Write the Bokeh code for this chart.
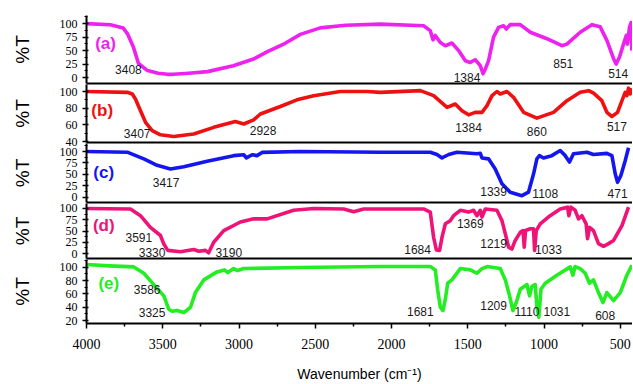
from bokeh.plotting import figure
from bokeh.layouts import column
from bokeh.models import Range1d, FixedTicker, ColumnDataSource
from bokeh.core.properties import value
from bokeh.embed import file_html
from bokeh.resources import INLINE

# ---------------- data ----------------
x_ticks = [4000, 3500, 3000, 2500, 2000, 1500, 1000, 500]
x_minor = [3750, 3250, 2750, 2250, 1750, 1250, 750]

wn_a = [4000, 3843, 3760, 3731, 3692, 3659, 3600, 3530, 3469, 3430, 3330, 3207, 3037, 2900, 2814, 2700,
        2598, 2467, 2300, 2073, 1790, 1746, 1728, 1713, 1680, 1647, 1604, 1560, 1516, 1484, 1451, 1418,
        1400, 1385, 1364, 1331, 1298, 1265, 1248, 1222, 1156, 1090, 981, 883, 850, 763, 686, 632, 588,
        544, 527, 505, 479, 461, 453, 440, 429, 424]
t_a = [100, 98, 92, 81, 56, 26, 13, 8, 6, 6, 8, 11, 22, 35, 48, 63,
       80, 92, 97, 99, 96, 87, 70, 78, 65, 59, 64, 50, 31, 28, 33, 22,
       7, 16, 31, 75, 93, 96, 90, 98, 98, 84, 72, 59, 62, 84, 98, 94, 69,
       35, 25, 38, 62, 78, 62, 93, 102, 50]

wn_b = [4000, 3733, 3700, 3679, 3646, 3613, 3569, 3515, 3428, 3297, 3166, 3024, 2969, 2904, 2860, 2729,
        2620, 2510, 2336, 2161, 2073, 1811, 1724, 1636, 1582, 1538, 1495, 1451, 1407, 1374, 1341, 1309,
        1287, 1243, 1200, 1134, 1047, 938, 850, 763, 708, 675, 621, 588, 555, 518, 489, 468, 457, 446,
        435, 424]
t_b = [100, 99, 97, 91, 77, 63, 53, 48, 46, 49, 57, 64, 61, 66, 73, 82,
       90, 95, 100, 100, 99, 101, 95, 81, 85, 77, 72, 75, 75, 83, 95, 100,
       97, 100, 93, 75, 68, 75, 89, 99, 101, 98, 89, 75, 70, 75, 89, 99, 95, 104,
       97, 104]

wn_c = [4000, 3733, 3624, 3537, 3450, 3362, 3209, 3035, 2969, 2952, 2914, 2882, 2849, 2598, 2073, 1746,
        1702, 1669, 1625, 1571, 1440, 1418, 1407, 1364, 1320, 1276, 1222, 1145, 1102, 1069, 1047, 1030,
        1004, 949, 894, 861, 833, 807, 719, 676, 588, 555, 533, 518, 496, 468, 446]
t_c = [100, 98.5, 84, 70, 62, 67, 79, 91, 93, 86, 93, 91, 98, 100, 98.5, 98.5,
       93.5, 86, 93.5, 98.5, 95, 96, 86, 84, 62, 30, 11.5, 4, 11.5, 51, 84, 91,
       86, 91, 102, 91, 77, 95, 98.5, 93.5, 96, 91, 51, 33, 48, 80, 108]

wn_d = [4000, 3712, 3646, 3581, 3515, 3493, 3467, 3384, 3297, 3264, 3220, 3199, 3166, 3100, 2991, 2904,
        2816, 2642, 2510, 2314, 2248, 2183, 2073, 1790, 1746, 1724, 1706, 1685, 1669, 1647, 1615, 1593,
        1549, 1495, 1462, 1440, 1418, 1407, 1385, 1309, 1276, 1254, 1232, 1211, 1189, 1156, 1138, 1130,
        1121, 1090, 1069, 1062, 1051, 1025, 960, 894, 846, 837, 824, 796, 774, 752, 724, 715, 701, 676,
        643, 610, 577, 544, 489, 446]
t_d = [100, 99, 84, 58, 40, 21, 7, 4, 9, 5, 7, 1.5, 25, 51, 70, 77,
       77, 96, 100, 99, 93, 99, 99, 99, 92, 36, 8, 7, 36, 66, 73, 84,
       96, 92, 96, 84, 96, 81, 99, 96, 73, 44, 14, 10, 29, 47, 51, 14,
       51, 55, 55, 7, 51, 66, 84, 99, 103, 84, 103, 96, 77, 84, 66, 33, 58, 51,
       22, 16, 22, 29, 62, 103]

wn_e = [4000, 3850, 3690, 3624, 3559, 3493, 3461, 3438, 3406, 3362, 3318, 3286, 3231, 3144, 3096, 3074,
        3035, 3009, 2969, 2598, 2073, 1746, 1713, 1698, 1680, 1663, 1647, 1632, 1604, 1549, 1484, 1440,
        1407, 1374, 1287, 1254, 1226, 1204, 1182, 1156, 1112, 1095, 1080, 1058, 1047, 1034, 1020, 992,
        916, 828, 811, 796, 763, 730, 702, 676, 643, 614, 588, 544, 500, 457, 424]
t_e = [104, 102, 100.5, 91, 74, 57, 37, 34, 35, 32, 40, 62, 81, 93, 96, 92,
       98, 95, 98, 99.5, 101, 101, 96, 67, 40, 35, 52, 76, 81, 98, 96, 91,
       98, 101, 98, 81, 57, 35, 47, 67, 74, 57, 71, 74, 42, 25, 67, 76,
       88, 100.5, 88, 101, 98, 91, 76, 81, 62, 47, 62, 50, 62, 88, 103]

# peak annotations
lab_a = ["3408", "1384", "851", "514"]
lab_b = ["3407", "2928", "1384", "860", "517"]
lab_c = ["3417", "1339", "1108", "471"]
lab_d = ["3591", "3330", "3190", "1684", "1369", "1219", "1033"]
lab_e = ["3586", "3325", "1681", "1209", "1110", "1031", "608"]
panel_names = ["(a)", "(b)", "(c)", "(d)", "(e)"]

# ---------------- placement / style ----------------
lpos_a = ([3725, 1505, 874, 514], [15, 0.5, 26, 8])
lpos_b = ([3668, 2842, 1495, 1047, 522], [50, 53, 57, 52, 58])
lpos_c = ([3478, 1331, 992, 518], [33, 14, 8, 8])
lpos_d = ([3657, 3570, 3067, 1829, 1484, 1331, 971], [36, 3, 3, 10, 66, 23, 10])
lpos_e = ([3602, 3570, 1811, 1331, 1112, 916, 599], [67, 32, 33.5, 43, 33.5, 33.5, 28])
npos = [(3875, 63), (3897, 77), (3887, 55), (3887, 62), (3854, 76)]

K = 8   # extra space below a panel (overlapped by the next one)
T = 6   # extra space above a panel (overlapping the previous one)
specs = [
    dict(wn=wn_a, t=t_a, lab=lab_a, lpos=lpos_a, color="#ee22ee", yr=(-11, 115),
         ticks=[0, 25, 50, 75, 100], minor=[12.5, 37.5, 62.5, 87.5, 112.5], frame=68, top=15),
    dict(wn=wn_b, t=t_b, lab=lab_b, lpos=lpos_b, color="#ee1111", yr=(38.8, 108.4),
         ticks=[40, 60, 80, 100], minor=[50, 70, 90], frame=58, top=T),
    dict(wn=wn_c, t=t_c, lab=lab_c, lpos=lpos_c, color="#1515ee", yr=(-10.9, 117.4),
         ticks=[0, 25, 50, 75, 100], minor=[12.5, 37.5, 62.5, 87.5, 112.5], frame=59, top=T),
    dict(wn=wn_d, t=t_d, lab=lab_d, lpos=lpos_d, color="#ee1477", yr=(-11.1, 111.1),
         ticks=[0, 25, 50, 75, 100], minor=[12.5, 37.5, 62.5, 87.5], frame=55, top=T),
    dict(wn=wn_e, t=t_e, lab=lab_e, lpos=lpos_e, color="#22ee22", yr=(15.6, 111.6),
         ticks=[20, 40, 60, 80, 100], minor=[30, 50, 70, 90, 110], frame=66, top=T),
]

x_range = Range1d(4000, 420)
figs = []
for i, s in enumerate(specs):
    last = i == len(specs) - 1
    bot = 59 if last else 1 + K
    p = figure(width=632, height=s["top"] + s["frame"] + bot, x_range=x_range,
               y_range=Range1d(*s["yr"]),
               output_backend="svg", toolbar_location=None,
               min_border_left=86, min_border_right=0,
               min_border_top=s["top"], min_border_bottom=bot,
               margin=(0 if i == 0 else -(K + T), 0, 0, 0))
    p.grid.visible = False
    p.outline_line_color = None
    p.background_fill_color = None
    p.border_fill_color = None

    p.line(s["wn"], s["t"], line_color=s["color"], line_width=3.6, line_join="round")

    src = ColumnDataSource(dict(x=s["lpos"][0], y=s["lpos"][1], text=s["lab"]))
    p.text(x="x", y="y", text="text", source=src, text_font=value("Liberation Sans"),
           text_font_size=value("12px"), text_align="center", text_baseline="middle",
           text_color="#1a1a1a")
    nx, ny = npos[i]
    p.text(x=[nx], y=[ny], text=[panel_names[i]], text_font=value("Liberation Sans"),
           text_font_style=value("bold"), text_font_size=value("17px"),
           text_color=s["color"], text_align="center", text_baseline="middle")

    ya = p.yaxis[0]
    ya.ticker = FixedTicker(ticks=s["ticks"], minor_ticks=s["minor"])
    ya.axis_label = "%T"
    ya.axis_label_text_font = "Liberation Sans"
    ya.axis_label_text_font_style = "normal"
    ya.axis_label_text_font_size = "19px"
    ya.axis_label_text_color = "black"
    ya.axis_label_standoff = 24
    ya.major_label_text_font = "Liberation Serif"
    ya.major_label_text_font_size = "12px"
    ya.major_label_text_color = "black"
    ya.major_label_standoff = 5
    ya.axis_line_width = 2
    ya.axis_line_color = "black"
    ya.major_tick_in = 2
    ya.major_tick_out = 4
    ya.minor_tick_in = 1
    ya.minor_tick_out = 2
    ya.major_tick_line_width = 1.5
    ya.minor_tick_line_width = 1.2

    xa = p.xaxis[0]
    xa.axis_line_width = 2
    xa.axis_line_color = "black"
    if last:
        xa.ticker = FixedTicker(ticks=x_ticks, minor_ticks=x_minor)
        xa.major_label_text_font = "Liberation Serif"
        xa.major_label_text_font_size = "14px"
        xa.major_label_text_color = "black"
        xa.major_label_standoff = 10
        xa.major_tick_in = 0
        xa.major_tick_out = 5
        xa.minor_tick_in = 0
        xa.minor_tick_out = 3
        xa.major_tick_line_width = 1.5
        xa.minor_tick_line_width = 1.5
        xa.axis_label = "Wavenumber (cm\u207b\u00b9)"
        xa.axis_label_text_font = "Liberation Sans"
        xa.axis_label_text_font_style = "normal"
        xa.axis_label_text_font_size = "14px"
        xa.axis_label_text_color = "black"
        xa.axis_label_standoff = 14
    else:
        xa.ticker = FixedTicker(ticks=[])
        xa.major_label_text_font_size = "0px"
        xa.major_label_standoff = 0
        xa.major_tick_in = 0
        xa.major_tick_out = 0
        xa.minor_tick_in = 0
        xa.minor_tick_out = 0
    figs.append(p)

layout = column(*figs, spacing=0)
open("out.html", "w").write(file_html(layout, INLINE))
